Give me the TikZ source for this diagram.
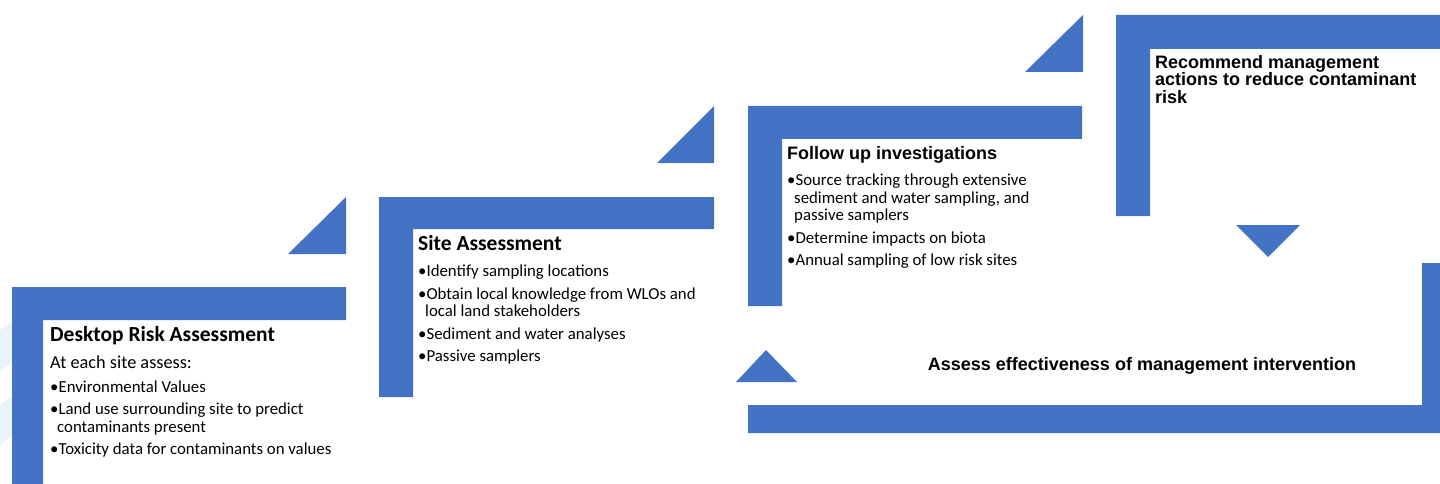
\documentclass[tikz,border=0pt]{standalone}
\usepackage{fontspec}
\setmainfont{Carlito}
\newfontfamily\arialfont{Liberation Sans}
\usetikzlibrary{positioning}
\definecolor{stepblue}{HTML}{4472C4}
\definecolor{paleblue}{HTML}{EAF3F8}

\begin{document}
\begin{tikzpicture}[x=1pt,y=-1pt]

  % Definitions
  \tikzstyle{stepbar} = [fill=stepblue, draw=none]
  \tikzstyle{headA} = [inner sep=0pt, anchor=north west, font=\fontsize{21.5}{24}\selectfont\bfseries]
  \tikzstyle{headB} = [inner sep=0pt, anchor=north west, align=left, font=\arialfont\fontsize{18}{17.5}\selectfont\bfseries]
  \tikzstyle{bullets} = [inner sep=0pt, anchor=north west, align=left, font=\fontsize{16.8}{17.5}\selectfont]

  \useasboundingbox (0,0) rectangle (1440,484);

  % faint background
  \fill[paleblue] (0,330) -- (12,322) -- (12,362) -- (0,372) -- cycle;
  \fill[paleblue] (0,405) -- (12,397) -- (12,435) -- (0,445) -- cycle;

  % steps
  \fill[stepbar] (12,287) -- (346,287) -- (346,320) -- (43,320) -- (43,484) -- (12,484) -- cycle;
  \fill[stepbar] (379,197) -- (714,197) -- (714,229) -- (413,229) -- (413,397) -- (379,397) -- cycle;
  \fill[stepbar] (748,106) -- (1082,106) -- (1082,139) -- (782,139) -- (782,306) -- (748,306) -- cycle;
  \fill[stepbar] (1116,15) -- (1440,15) -- (1440,49) -- (1150,49) -- (1150,216) -- (1116,216) -- cycle;
  \fill[stepbar] (1422,263) -- (1440,263) -- (1440,433) -- (748,433) -- (748,405) -- (1422,405) -- cycle;

  % arrow heads
  \fill[stepbar] (288,254) -- (346,254) -- (346,197) -- cycle;
  \fill[stepbar] (657,163) -- (714,163) -- (714,106) -- cycle;
  \fill[stepbar] (1025,72) -- (1083,72) -- (1083,15) -- cycle;
  \fill[stepbar] (1236,225) -- (1300,225) -- (1268,257) -- cycle;
  \fill[stepbar] (736,382) -- (797,382) -- (766,350) -- cycle;

  % texts
  \node (desk) [headA] at (50,326) {Desktop Risk Assessment};
  \node (deskintro) [inner sep=0pt, anchor=north west, font=\fontsize{18.3}{20}\selectfont] at (50,356) {At each site assess:};
  \node (desklist) [bullets] at (50,381) {%
    •Environmental Values\\[4.5pt]
    •Land use surrounding site to predict\\
    \hspace*{7pt}contaminants present\\[4.5pt]
    •Toxicity data for contaminants on values};

  \node (site) [headA] at (418,235) {Site Assessment};
  \node (sitelist) [bullets] at (418,265) {%
    •Identify sampling locations\\[5pt]
    •Obtain local knowledge from WLOs and\\
    \hspace*{7pt}local land stakeholders\\[5pt]
    •Sediment and water analyses\\[5pt]
    •Passive samplers};

  \node (follow) [headB] at (787,146) {Follow up investigations};
  \node (followlist) [bullets] at (787,174) {%
    •Source tracking through extensive\\
    \hspace*{7pt}sediment and water sampling, and\\
    \hspace*{7pt}passive samplers\\[5pt]
    •Determine impacts on biota\\[5pt]
    •Annual sampling of low risk sites};

  \node (recommend) [headB] at (1155,55) {Recommend management\\actions to reduce contaminant\\risk};

  \node (assess) [inner sep=0pt, font=\arialfont\fontsize{18}{20}\selectfont\bfseries] at (1142,366) {Assess effectiveness of management intervention};

\end{tikzpicture}
\end{document}
